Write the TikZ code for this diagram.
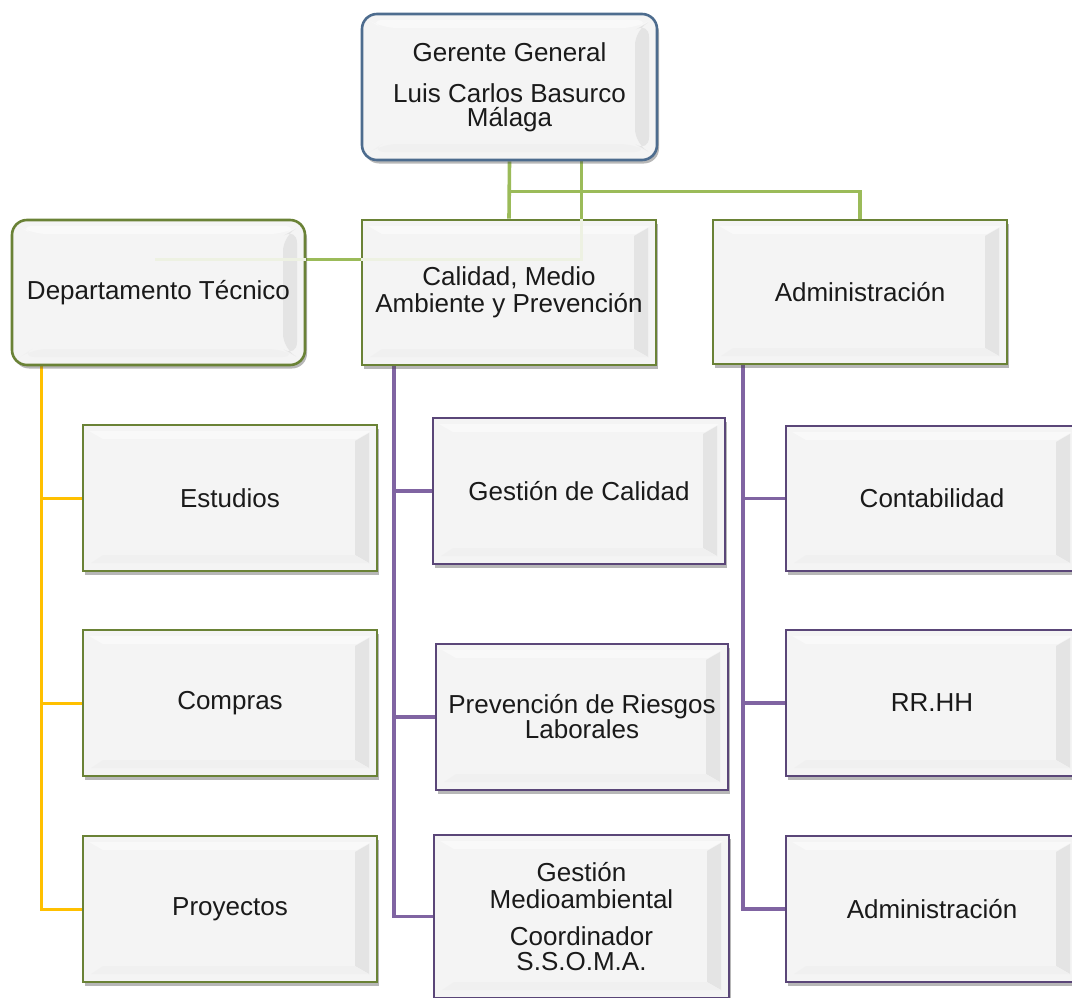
\documentclass[tikz,border=0pt]{standalone}
\usepackage{fontspec}
\setmainfont{Liberation Sans}
\usetikzlibrary{shadows,backgrounds}
\definecolor{olive}{HTML}{6A8236}
\definecolor{purp}{HTML}{5A4678}
\definecolor{bluebd}{HTML}{4D6C8E}
\definecolor{grnline}{HTML}{9BBB59}
\definecolor{grnfaint}{HTML}{EDF1E2}
\definecolor{yelline}{HTML}{FFC000}
\definecolor{purline}{HTML}{8064A2}
\definecolor{boxfill}{HTML}{F4F4F4}
\definecolor{bevdark}{HTML}{E4E4E4}
\definecolor{bevlight}{HTML}{F9F9F9}
\definecolor{txt}{HTML}{1A1A1A}
\tikzset{
  orgbox/.style={draw, line width=2.6pt, fill=boxfill, text=txt, align=center,
    font=\fontsize{26}{27}\selectfont, inner sep=2pt,
    drop shadow={shadow xshift=2pt, shadow yshift=-3.5pt, opacity=0.4, fill=black!70},
    path picture={
      \fill[bevlight] ([xshift=6pt,yshift=-6pt]path picture bounding box.north west) --
        ([xshift=-6pt,yshift=-6pt]path picture bounding box.north east) --
        ([xshift=-20pt,yshift=-14pt]path picture bounding box.north east) --
        ([xshift=20pt,yshift=-14pt]path picture bounding box.north west) -- cycle;
      \fill[bevdark] ([xshift=-22pt,yshift=-16pt]path picture bounding box.north east) --
        ([xshift=-8pt,yshift=-8pt]path picture bounding box.north east) --
        ([xshift=-8pt,yshift=8pt]path picture bounding box.south east) --
        ([xshift=-22pt,yshift=16pt]path picture bounding box.south east) -- cycle;
      \fill[black!6] ([xshift=8pt,yshift=8pt]path picture bounding box.south west) --
        ([xshift=-8pt,yshift=8pt]path picture bounding box.south east) --
        ([xshift=-22pt,yshift=16pt]path picture bounding box.south east) --
        ([xshift=20pt,yshift=16pt]path picture bounding box.south west) -- cycle;
    }},
  gbox/.style={orgbox, draw=olive},
  pbox/.style={orgbox, draw=purp},
  grn/.style={draw=grnline, line width=3.6pt},
  faintln/.style={draw=grnfaint, line width=3.2pt},
  yel/.style={draw=yelline, line width=3pt},
  pur/.style={draw=purline, line width=3.6pt}
}
\begin{document}
\begin{tikzpicture}[x=1pt,y=-1pt]
\useasboundingbox (0,0) rectangle (1072,998);
\clip (0,0) rectangle (1072,998);
% top
\node[orgbox, draw=bluebd, rounded corners=15pt, minimum width=295pt, minimum height=146pt] (ger) at (509.5,87)
  {Gerente General\\[14pt]Luis Carlos Basurco\\[-3pt]Málaga};
% level 2
\node[gbox, rounded corners=15pt, minimum width=293pt, minimum height=145pt] (dt) at (158.5,292.5) {Departamento Técnico};
\node[gbox, minimum width=294pt, minimum height=145pt] (cal) at (509,292.5) {Calidad, Medio\\Ambiente y Prevención};
\node[gbox, minimum width=294pt, minimum height=144pt] (adm) at (860,292) {Administración};
% left column
\node[gbox, minimum width=294pt, minimum height=146pt] (est) at (230,498) {Estudios};
\node[gbox, minimum width=294pt, minimum height=146pt] (comp) at (230,703) {Compras};
\node[gbox, minimum width=294pt, minimum height=146pt] (proy) at (230,909) {Proyectos};
% middle column
\node[pbox, minimum width=292pt, minimum height=146pt] (gc) at (579,491) {Gestión de Calidad};
\node[pbox, minimum width=292pt, minimum height=146pt] (prl) at (582,717) {Prevención de Riesgos\\[-2pt]Laborales};
\node[pbox, minimum width=295pt, minimum height=163pt] (gm) at (581.5,916.5) {Gestión\\Medioambiental\\[10pt]Coordinador\\[-2pt]S.S.O.M.A.};
% right column
\node[pbox, minimum width=292pt, minimum height=145pt] (cont) at (932,498.5) {Contabilidad};
\node[pbox, minimum width=292pt, minimum height=146pt] (rrhh) at (932,703) {RR.HH};
\node[pbox, minimum width=292pt, minimum height=146pt] (adm2) at (932,909) {Administración};
% helper coordinates
\coordinate (gl) at ([xshift=72pt]ger.south);
\coordinate (dtl) at ([yshift=33pt]dt.center);
% faint show-through segments
\draw[faintln] (gl |- cal.north) |- (cal.west |- dtl);
\draw[faintln] (dt.east |- dtl) -- ([xshift=-4pt]dtl);
\begin{pgfonlayer}{background}
\draw[grn] (ger.south) -- (cal.north);
\draw[grn] ([yshift=-30pt]ger.south) -| (adm.north);
\draw[grn] (gl) |- (dtl);
\coordinate (ys) at ([xshift=31pt]dt.south west);
\draw[yel] (ys) |- (est.west);
\draw[yel] (ys) |- (comp.west);
\draw[yel] (ys) |- (proy.west);
\coordinate (ps) at ([xshift=33pt]cal.south west);
\draw[pur] (ps) |- (gc.west);
\draw[pur] (ps) |- (prl.west);
\draw[pur] (ps) |- (gm.west);
\coordinate (rs) at ([xshift=31pt]adm.south west);
\draw[pur] (rs) |- (cont.west);
\draw[pur] (rs) |- (rrhh.west);
\draw[pur] (rs) |- (adm2.west);
\end{pgfonlayer}
\end{tikzpicture}
\end{document}
